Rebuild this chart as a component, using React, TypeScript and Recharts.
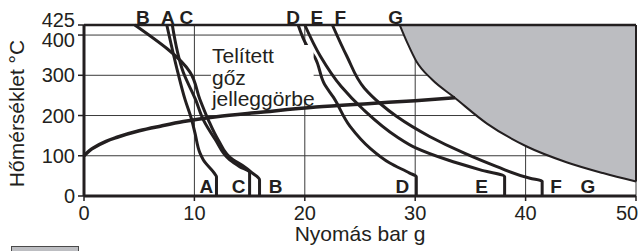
import React from "react";
import {
  Area,
  CartesianGrid,
  ComposedChart,
  LabelList,
  Line,
  ReferenceArea,
  ReferenceLine,
  XAxis,
  YAxis,
} from "recharts";

// axis ticks
const xTicks = [0, 10, 20, 30, 40, 50];
const yTicks = [0, 100, 200, 300, 400, 425];

// curves A..F (pressure bar g, temperature °C), read top to bottom
const aX = [7.5, 8.5, 9.15, 9.75, 10.05, 10.5, 10.8, 11.9, 12.0, 12.0];
const aY = [425, 307, 240, 190, 157, 107, 90, 53, 48, 0];

const bX = [4.6, 9.6, 10.5, 11.25, 12.15, 13.5, 14.4, 15.2, 15.9, 15.9];
const bY = [425, 308, 240, 190, 140, 90, 75, 58, 40, 0];

const cX = [8.0, 9.0, 10.1, 10.8, 11.9, 13.2, 14.1, 15.0, 15.0];
const cY = [425, 307, 240, 190, 140, 90, 73, 58, 0];

const dX = [19.4, 20.2, 20.9, 21.8, 22.6, 24.1, 25.9, 27.7, 29.5, 30.1, 30.1];
const dY = [425, 373, 345, 277, 245, 173, 119, 82, 57, 48, 0];

const eX = [20.0, 21.4, 23.3, 25.3, 28.3, 30.1, 32.9, 35.9, 38.1, 38.1];
const eY = [425, 348, 272, 215, 148, 119, 90, 65, 48, 0];

const fX = [22.5, 23.8, 25.4, 26.9, 28.3, 31.3, 34.4, 37.4, 40.4, 41.5, 41.5];
const fY = [425, 348, 268, 228, 198, 148, 107, 73, 44, 37, 0];

// G: limit curve, shaded region above it
const gX = [28.6, 29.3, 30.1, 31.5, 33.5, 36.5, 40.1, 43.7, 47.0, 50.0];
const gY = [425, 380, 335, 290, 246, 180, 123, 84, 57, 36];

// saturated steam curve
const satX = [0, 0.5, 1, 2, 3, 5, 7, 9, 12, 16, 21, 26, 30, 33.6];
const satY = [100, 113, 122, 136, 146, 162, 174, 185, 197, 208, 221, 230, 237, 244];

const boxText = ["Telített", "gőz", "jelleggörbe"];
const xTitle = "Nyomás bar g";
const yTitle = "Hőmérséklet °C";

const INK = "#231f20";
const GRID = "#3a3a3a";
const SHADE = "#bcbdc1";
const FONT = '"Liberation Sans", Arial, Helvetica, sans-serif';

const pts = (xs: number[], ys: number[]) => xs.map((x, i) => ({ x, y: ys[i] }));

// letter placement relative to first (top) and last (bottom) point, px
const letterOffsets: Record<string, { tx: number; bx: number; by: number }> = {
  A: { tx: 1, bx: -10, by: -3 },
  B: { tx: 8, bx: 16, by: -3 },
  C: { tx: 14, bx: -11, by: -3 },
  D: { tx: -5, bx: -14, by: -3 },
  E: { tx: 12, bx: -23, by: -3 },
  F: { tx: 8, bx: 14, by: -3 },
  G: { tx: -4, bx: -48, by: 11.5 },
};

const letter = (name: string, count: number) => (props: any) => {
  const { x, y, index } = props;
  const o = letterOffsets[name];
  const common = { textAnchor: "middle" as const, fontSize: 19, fontWeight: 700, fill: INK };
  if (index === 0) {
    return (
      <text x={x + o.tx} y={y - 1} {...common}>
        {name}
      </text>
    );
  }
  if (index === count - 1) {
    return (
      <text x={x + o.bx} y={y + o.by} {...common}>
        {name}
      </text>
    );
  }
  return null;
};

const XTick = (props: any) => {
  const { x, y, payload } = props;
  // last label pulled in so it stays on the page
  const dx = payload.value === 50 ? -9 : 0;
  return (
    <text x={x + dx} y={y} dy="0.71em" textAnchor="middle" fontSize={20} fill={INK}>
      {payload.value}
    </text>
  );
};

const YTick = (props: any) => {
  const { x, y, payload } = props;
  const shift = payload.value === 425 ? -5 : payload.value === 400 ? 5 : 0;
  return (
    <text x={x} y={y + shift} dy="0.355em" textAnchor="end" fontSize={20} fill={INK}>
      {payload.value}
    </text>
  );
};

const YTitle = (props: any) => {
  const vb = props.viewBox || { x: 0, y: 25, width: 84, height: 171 };
  const cx = vb.x + 24;
  const cy = vb.y + vb.height / 2 + 3;
  return (
    <text
      x={cx}
      y={cy}
      transform={`rotate(-90 ${cx} ${cy})`}
      textAnchor="middle"
      fontSize={21}
      fill={INK}
    >
      {yTitle}
    </text>
  );
};

const BoxText = (props: any) => {
  const { x, y } = props.viewBox;
  return (
    <text x={x + 1} y={y + 18} fontSize={21} fill={INK}>
      {boxText.map((t, i) => (
        <tspan key={t} x={x + 1} dy={i === 0 ? 0 : 21.5}>
          {t}
        </tspan>
      ))}
    </text>
  );
};

const curves = [
  { name: "A", data: pts(aX, aY), z: 400 },
  { name: "B", data: pts(bX, bY), z: 400 },
  { name: "C", data: pts(cX, cY), z: 400 },
  { name: "D", data: pts(dX, dY), z: 400 },
];
const laterCurves = [
  { name: "E", data: pts(eX, eY), z: 420 },
  { name: "F", data: pts(fX, fY), z: 420 },
];

export default function App() {
  const gData = pts(gX, gY);
  return (
    <div
      style={{
        position: "absolute",
        left: 0,
        top: 0,
        width: 638,
        height: 251,
        overflow: "hidden",
        background: "#fff",
        fontFamily: FONT,
      }}
    >
      <ComposedChart width={638} height={251} margin={{ top: 25, right: 2, bottom: 0, left: 0 }}>
        <CartesianGrid stroke={GRID} strokeWidth={1} />
        <XAxis
          type="number"
          dataKey="x"
          domain={[0, 50]}
          ticks={xTicks}
          interval={0}
          height={55}
          tickSize={5}
          tickMargin={5}
          axisLine={{ stroke: INK, strokeWidth: 3 }}
          tickLine={{ stroke: INK, strokeWidth: 1.5 }}
          tick={XTick}
          label={{ value: xTitle, position: "insideBottom", offset: 10, fontSize: 21, fill: INK }}
        />
        <YAxis
          type="number"
          dataKey="y"
          domain={[0, 425]}
          ticks={yTicks}
          interval={0}
          width={84}
          tickSize={6}
          tickMargin={3}
          axisLine={{ stroke: INK, strokeWidth: 3 }}
          tickLine={{ stroke: INK, strokeWidth: 1.5 }}
          tick={YTick}
          label={<YTitle />}
        />
        <Area
          data={gData}
          dataKey="y"
          type="monotone"
          baseValue={425}
          fill={SHADE}
          fillOpacity={1}
          stroke="none"
          isAnimationActive={false}
        />
        <ReferenceLine
          segment={[
            { x: 50, y: gY[gY.length - 1] },
            { x: 50, y: 425 },
          ]}
          stroke={INK}
          strokeWidth={2}
        />
        <ReferenceLine y={425} stroke={INK} strokeWidth={2.5} />
        <Line
          data={pts(satX, satY)}
          dataKey="y"
          type="monotone"
          stroke={INK}
          strokeWidth={3.5}
          dot={false}
          activeDot={false}
          isAnimationActive={false}
        />
        {curves.map((c) => (
          <Line
            key={c.name}
            data={c.data}
            dataKey="y"
            type="monotoneY"
            stroke={INK}
            strokeWidth={3}
            dot={false}
            activeDot={false}
            isAnimationActive={false}
            zIndex={c.z}
          >
            <LabelList dataKey="y" content={letter(c.name, c.data.length)} />
          </Line>
        ))}
        <ReferenceArea
          x1={11.5}
          x2={20.8}
          y1={240}
          y2={375}
          fill="#fff"
          fillOpacity={1}
          stroke="none"
          zIndex={410}
          label={<BoxText />}
        />
        {laterCurves.map((c) => (
          <Line
            key={c.name}
            data={c.data}
            dataKey="y"
            type="monotoneY"
            stroke={INK}
            strokeWidth={3}
            dot={false}
            activeDot={false}
            isAnimationActive={false}
            zIndex={c.z}
          >
            <LabelList dataKey="y" content={letter(c.name, c.data.length)} />
          </Line>
        ))}
        <Line
          data={gData}
          dataKey="y"
          type="monotone"
          stroke={INK}
          strokeWidth={2}
          dot={false}
          activeDot={false}
          isAnimationActive={false}
          zIndex={420}
        >
          <LabelList dataKey="y" content={letter("G", gData.length)} />
        </Line>
      </ComposedChart>
      <div
        style={{
          position: "absolute",
          left: 11,
          top: 246,
          width: 68,
          height: 12,
          background: "#bdbec2",
          border: "1px solid #4a4a4a",
          boxSizing: "border-box",
        }}
      />
    </div>
  );
}
